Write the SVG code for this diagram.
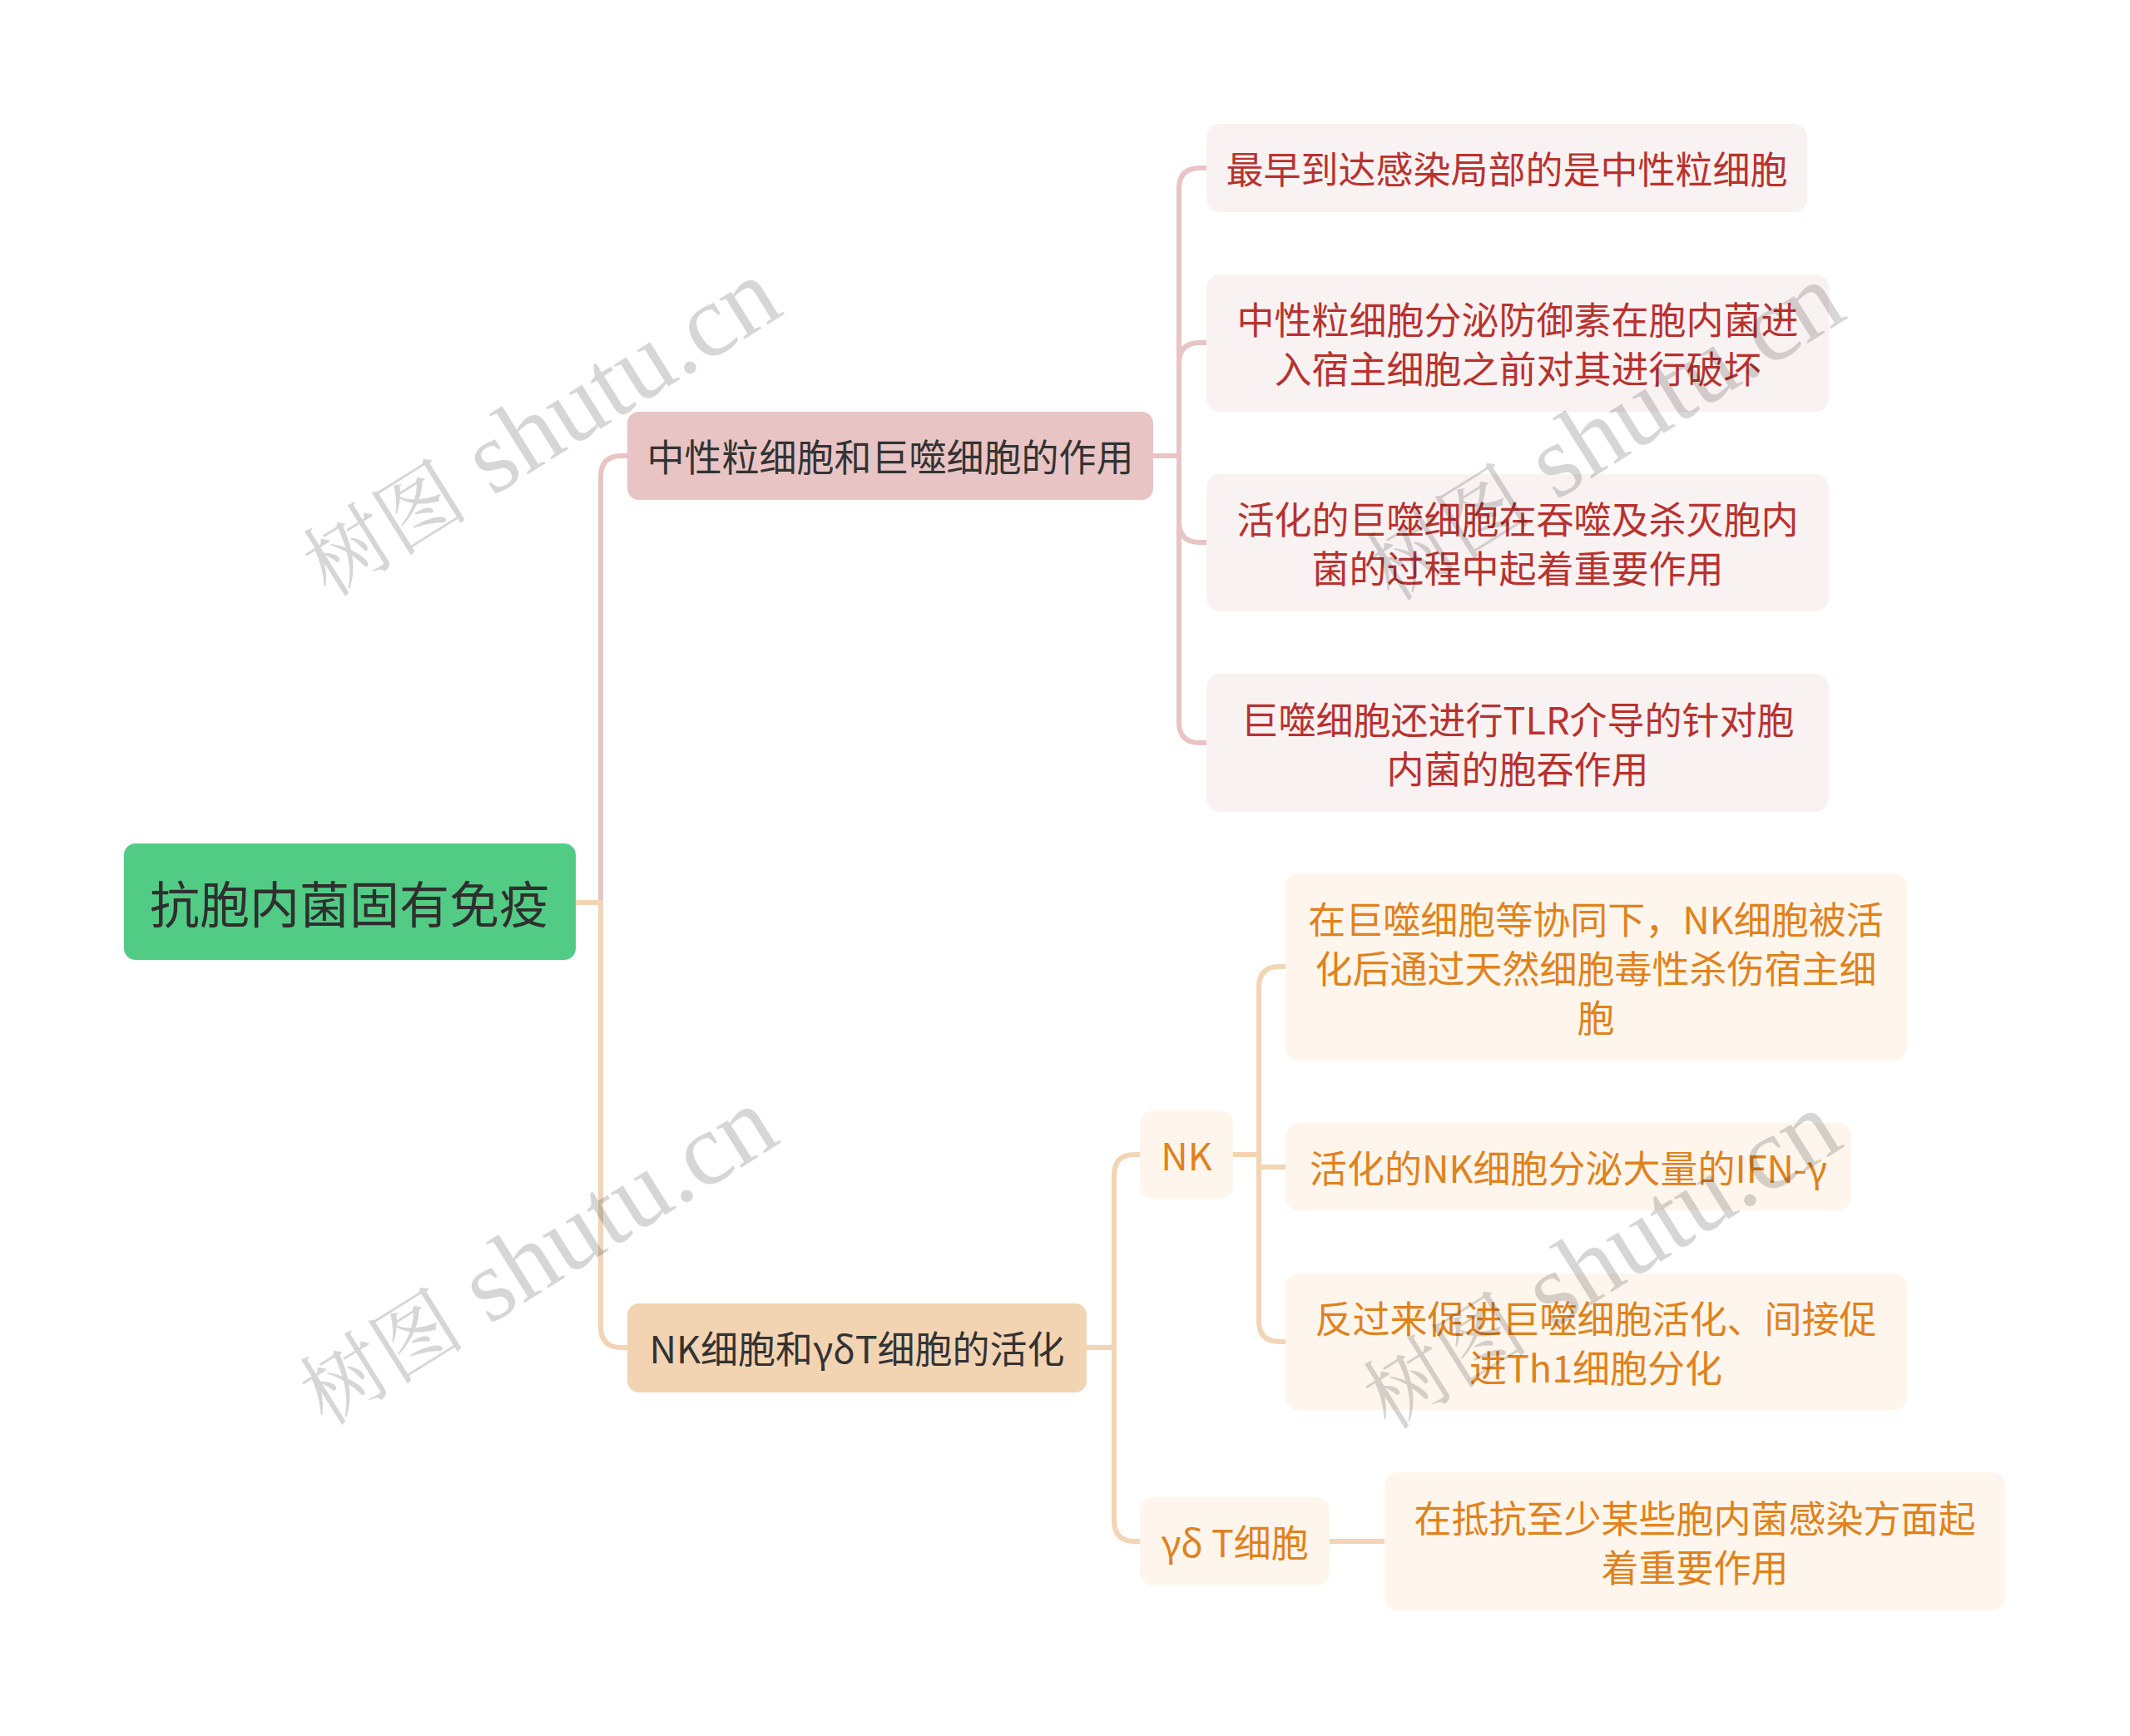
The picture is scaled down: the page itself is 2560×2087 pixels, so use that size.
<svg xmlns="http://www.w3.org/2000/svg" width="2560" height="2087" viewBox="0 0 2560 2087">
<style>
.t{font-family:"Noto Sans CJK SC","Noto Sans",sans-serif;text-anchor:middle;dominant-baseline:central}
.root{fill:#52CC85}
.rt{font-size:60px;fill:#2F2F2F}
.b1{fill:#E8C4C4}
.b2{fill:#F2D4B3}
.bt{font-size:45px;fill:#333333}
.lp{fill:#F9F2F2}
.lo{fill:#FEF6EC}
.red{font-size:45px;fill:#B8322F}
.org{font-size:45px;fill:#E0821D}
.cp{fill:none;stroke:#E8C4C4;stroke-width:6}
.co{fill:none;stroke:#F2D5B5;stroke-width:6}
.wm{font-family:"Liberation Serif","Noto Serif CJK SC","Noto Sans CJK SC",serif;font-size:124px;fill:#000;fill-opacity:0.16;text-anchor:middle}
.wc{font-size:100px}
</style>
<rect width="2560" height="2087" fill="#FFFFFF"/>
<g id="connectors">
<path class="cp" d="M722,1085 V573 Q722,548 747,548 H756"/>
<path class="co" d="M690,1085 H722 V1595 Q722,1620 747,1620 H756"/>
<path class="cp" d="M1384,548 H1417 V227 Q1417,202 1442,202 H1452"/>
<path class="cp" d="M1417,548 V437 Q1417,412 1442,412 H1452"/>
<path class="cp" d="M1417,548 V627 Q1417,652 1442,652 H1452"/>
<path class="cp" d="M1417,548 V868 Q1417,893 1442,893 H1452"/>
<path class="co" d="M1304,1620 H1339 V1413 Q1339,1388 1364,1388 H1372"/>
<path class="co" d="M1339,1620 V1828 Q1339,1853 1364,1853 H1372"/>
<path class="co" d="M1479,1388 H1513 V1187 Q1513,1162 1538,1162 H1547"/>
<path class="co" d="M1513,1388 V1403 H1547"/>
<path class="co" d="M1513,1388 V1588 Q1513,1613 1538,1613 H1547"/>
<path class="co" d="M1596,1853 H1666"/>
</g>
<g id="root">
<rect class="root" x="149" y="1014" width="543" height="140" rx="14"/>
<text class="t rt" x="420" y="1083">抗胞内菌固有免疫</text>
</g>
<g id="branch1">
<rect class="b1" x="754" y="495" width="632" height="106" rx="14"/>
<text class="t bt" x="1070" y="547">中性粒细胞和巨噬细胞的作用</text>
</g>
<g id="branch2">
<rect class="b2" x="754" y="1567" width="552" height="107" rx="14"/>
<text class="t bt" x="1030" y="1619">NK细胞和γδT细胞的活化</text>
</g>
<g id="leaf1">
<rect class="lp" x="1450" y="149" width="722" height="106" rx="16"/>
<text class="t red" x="1811" y="201">最早到达感染局部的是中性粒细胞</text>
</g>
<g id="leaf2">
<rect class="lp" x="1450" y="330" width="748" height="165" rx="16"/>
<text class="t red" x="1824" y="382">中性粒细胞分泌防御素在胞内菌进</text>
<text class="t red" x="1824" y="441">入宿主细胞之前对其进行破坏</text>
</g>
<g id="leaf3">
<rect class="lp" x="1450" y="570" width="748" height="165" rx="16"/>
<text class="t red" x="1824" y="622">活化的巨噬细胞在吞噬及杀灭胞内</text>
<text class="t red" x="1824" y="681">菌的过程中起着重要作用</text>
</g>
<g id="leaf4">
<rect class="lp" x="1450" y="810" width="748" height="166" rx="16"/>
<text class="t red" x="1824" y="863">巨噬细胞还进行TLR介导的针对胞</text>
<text class="t red" x="1824" y="922">内菌的胞吞作用</text>
</g>
<g id="nk">
<rect class="lo" x="1370" y="1335" width="112" height="106" rx="16"/>
<text class="t org" x="1426" y="1387">NK</text>
</g>
<g id="gd">
<rect class="lo" x="1370" y="1800" width="228" height="106" rx="16"/>
<text class="t org" x="1484" y="1852">γδ T细胞</text>
</g>
<g id="nk1">
<rect class="lo" x="1545" y="1050" width="747" height="225" rx="16"/>
<text class="t org" x="1918" y="1103">在巨噬细胞等协同下，NK细胞被活</text>
<text class="t org" x="1918" y="1162">化后通过天然细胞毒性杀伤宿主细</text>
<text class="t org" x="1918" y="1221">胞</text>
</g>
<g id="nk2">
<rect class="lo" x="1545" y="1350" width="680" height="105" rx="16"/>
<text class="t org" x="1885" y="1402">活化的NK细胞分泌大量的IFN-γ</text>
</g>
<g id="nk3">
<rect class="lo" x="1545" y="1531" width="747" height="164" rx="16"/>
<text class="t org" x="1918" y="1583">反过来促进巨噬细胞活化、间接促</text>
<text class="t org" x="1918" y="1642">进Th1细胞分化</text>
</g>
<g id="gd1">
<rect class="lo" x="1664" y="1770" width="746" height="166" rx="16"/>
<text class="t org" x="2037" y="1823">在抵抗至少某些胞内菌感染方面起</text>
<text class="t org" x="2037" y="1882">着重要作用</text>
</g>
<g id="watermarks">
<text class="wm" transform="translate(649,514) rotate(-32)" x="0" y="40"><tspan class="wc">树图</tspan> shutu.cn</text>
<text class="wm" transform="translate(1927,519) rotate(-32)" x="0" y="40"><tspan class="wc">树图</tspan> shutu.cn</text>
<text class="wm" transform="translate(645,1510) rotate(-32)" x="0" y="40"><tspan class="wc">树图</tspan> shutu.cn</text>
<text class="wm" transform="translate(1923,1515) rotate(-32)" x="0" y="40"><tspan class="wc">树图</tspan> shutu.cn</text>
</g>
</svg>
